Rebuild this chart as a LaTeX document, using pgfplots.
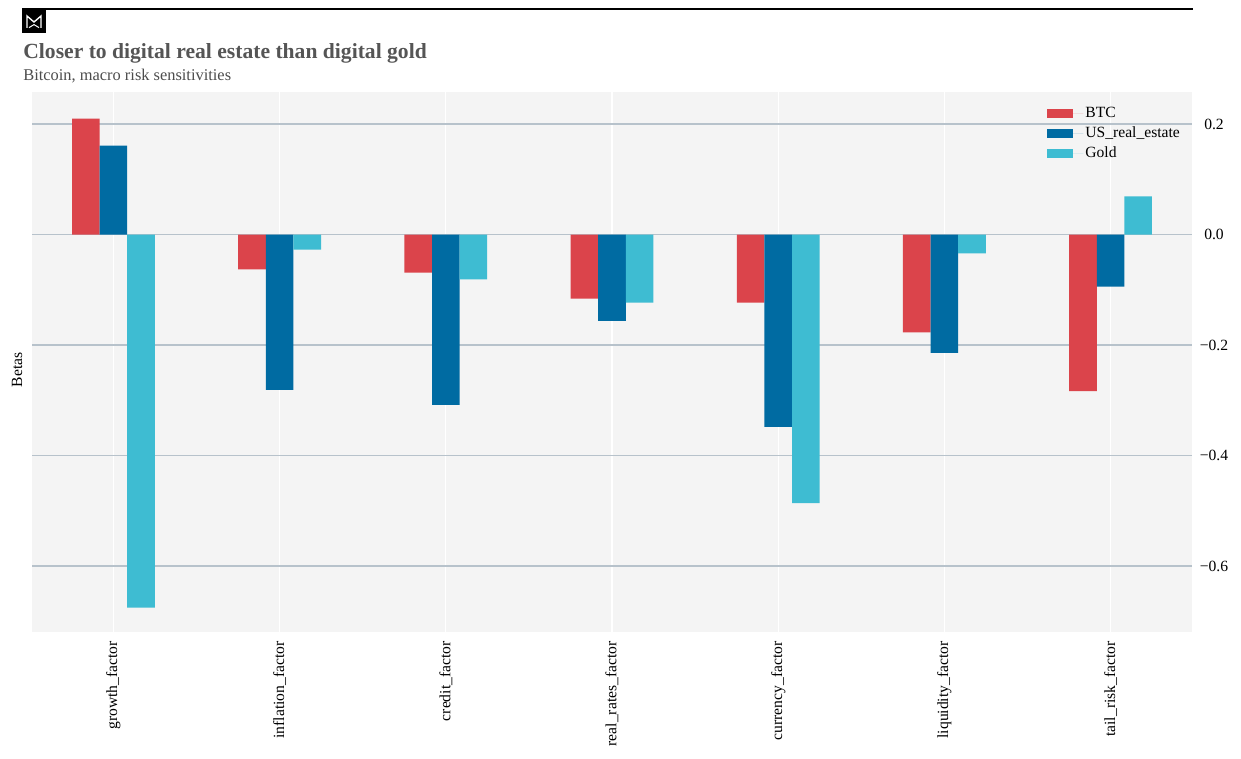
\documentclass[border=0pt]{standalone}
\usepackage{fontspec}
\setmainfont{Liberation Serif}
\usepackage{pgfplots}
\pgfplotsset{compat=1.18}
\definecolor{btc}{HTML}{DB444B}
\definecolor{usre}{HTML}{006BA2}
\definecolor{gold}{HTML}{3EBCD2}
\definecolor{panel}{HTML}{F4F4F4}
\definecolor{gridc}{HTML}{B7C2CB}
\definecolor{titlec}{HTML}{555555}
\begin{document}
\begin{tikzpicture}
% 1 px = 0.5 pt, origin at top left
\path[use as bounding box] (0,0) rectangle (620.5pt,-379.5pt);
\draw[black, line width=0.6pt] (11pt,-4.5pt) -- (596.5pt,-4.5pt);
\fill[black] (11pt,-5pt) rectangle (23pt,-16.5pt);
\draw[white, line width=0.7pt, line join=miter]
  (13.5pt,-14pt) -- (13.5pt,-8pt) -- (17pt,-11pt) -- (20.5pt,-8pt) -- (20.5pt,-14pt);
\draw[white, line width=0.5pt] (14.5pt,-13.8pt) -- (17pt,-12.3pt) -- (19.5pt,-13.8pt);
\node[anchor=base west, inner sep=0pt, text=titlec, font=\fontsize{10.8}{12}\selectfont\bfseries]
  at (11.5pt,-29.5pt) {Closer to digital real estate than digital gold};
\node[anchor=base west, inner sep=0pt, text=titlec!90!black, font=\fontsize{8.2}{10}\selectfont]
  at (11.5pt,-40.5pt) {Bitcoin, macro risk sensitivities};
\node[rotate=90, inner sep=0pt, font=\fontsize{7.8}{9}\selectfont] at (8.5pt,-185pt) {Betas};
\begin{axis}[
    at={(16pt,-316pt)}, anchor=south west,
    width=580pt, height=270pt, scale only axis,
    axis background/.style={fill=panel},
    axis line style={draw=none},
    major tick length=0pt,
    xmin=-0.49, xmax=6.49,
    ymin=-0.719, ymax=0.258,
    xtick={0,...,6},
    xticklabels={growth\_factor, inflation\_factor, credit\_factor, real\_rates\_factor, currency\_factor, liquidity\_factor, tail\_risk\_factor},
    xticklabel style={rotate=90, anchor=east, inner sep=0pt, xshift=-4.5pt, font=\fontsize{7.8}{9}\selectfont},
    ytick={-0.6,-0.4,-0.2,0,0.2},
    yticklabels={−0.6,−0.4,−0.2,0.0,0.2},
    yticklabel pos=right,
    yticklabel style={anchor=center, xshift=11pt, font=\fontsize{7.8}{9}\selectfont},
    xmajorgrids, ymajorgrids,
    x grid style={white, line width=0.6pt},
    y grid style={gridc, line width=0.75pt},
    ybar, bar width=13.8pt,
    legend image code/.code={\fill[#1, draw=none] (0pt,-2.3pt) rectangle (13pt,2.3pt); \path (0pt,0pt) -- (18pt,0pt);},
    legend style={draw=none, fill=none, at={(axis description cs:0.875,0.977)}, anchor=north west,
      inner sep=0pt, row sep=1.1pt, font=\fontsize{7.8}{9}\selectfont,
      nodes={inner sep=1pt, anchor=west}},
    legend cell align=left,
  ]
  % BTC
  \addplot[fill=btc, draw=none, bar shift=-13.8pt] coordinates {
    (0,0.210) (1,-0.063) (2,-0.069) (3,-0.116) (4,-0.123) (5,-0.177) (6,-0.283)
  };
  % US real estate
  \addplot[fill=usre, draw=none, bar shift=0pt] coordinates {
    (0,0.161) (1,-0.281) (2,-0.308) (3,-0.156) (4,-0.348) (5,-0.214) (6,-0.094)
  };
  % Gold
  \addplot[fill=gold, draw=none, bar shift=13.8pt] coordinates {
    (0,-0.675) (1,-0.027) (2,-0.081) (3,-0.123) (4,-0.486) (5,-0.034) (6,0.069)
  };
  \legend{BTC, US\_real\_estate, Gold}
\end{axis}
\end{tikzpicture}
\end{document}
